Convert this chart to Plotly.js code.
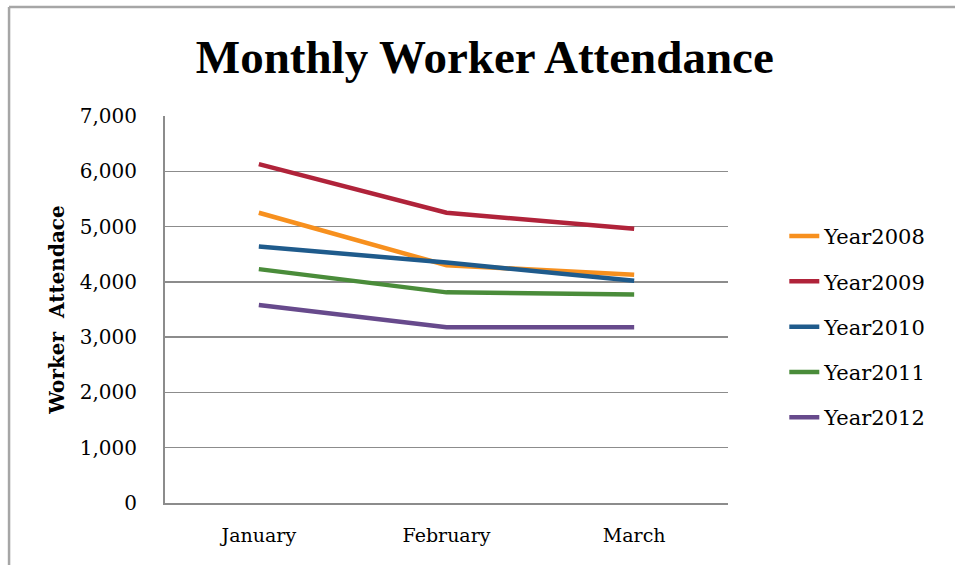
<!DOCTYPE html>
<html>
<head>
<meta charset="utf-8">
<script src="https://cdn.plot.ly/plotly-3.0.1.min.js"></script>
<style>
html,body{margin:0;padding:0;background:#fff;}
#chart{width:955px;height:565px;}
</style>
</head>
<body>
<div id="chart"></div>
<script>
const months = ["January", "February", "March"];
const seriesNames = ["Year2008", "Year2009", "Year2010", "Year2011", "Year2012"];
const year2008 = [5250, 4300, 4130];
const year2009 = [6130, 5250, 4960];
const year2010 = [4640, 4350, 4020];
const year2011 = [4230, 3810, 3770];
const year2012 = [3580, 3180, 3180];
const yTickVals = [0, 1000, 2000, 3000, 4000, 5000, 6000, 7000];
const yTickText = ["0", "1,000", "2,000", "3,000", "4,000", "5,000", "6,000", "7,000"];
const colors = ["#F7901E", "#B0233A", "#1F5B8C", "#4A8C3A", "#674A8C"];

const allSeries = [year2008, year2009, year2010, year2011, year2012];
const traces = allSeries.map((vals, i) => ({
  type: "scatter",
  mode: "lines",
  x: months,
  y: vals,
  name: seriesNames[i],
  legendgroup: "g" + i,
  line: {color: colors[i], width: 4.5}
}));

const fontFam = "DejaVu Serif, serif";
const layout = {
  width: 955, height: 565,
  margin: {l: 165, r: 227, t: 116, b: 62},
  paper_bgcolor: "#ffffff",
  plot_bgcolor: "#ffffff",
  showlegend: true,
  title: {
    text: "<b>Monthly Worker Attendance</b>",
    font: {family: "Liberation Serif, Times New Roman, serif", size: 47, color: "#000"},
    x: 0.568, xanchor: "center", xref: "paper",
    y: 0.9, yanchor: "middle"
  },
  xaxis: {
    type: "category",
    range: [-0.5, 2.5],
    showgrid: false,
    showline: true, linecolor: "#8c8c8c", linewidth: 2,
    ticks: "", ticklabelstandoff: 14,
    tickfont: {family: fontFam, size: 19, color: "#000"},
    zeroline: false, fixedrange: true
  },
  yaxis: {
    range: [0, 7000],
    tickvals: yTickVals, ticktext: yTickText,
    showgrid: true, gridcolor: "#8c8c8c", gridwidth: 1.5,
    showline: true, linecolor: "#8c8c8c", linewidth: 2,
    ticks: "", ticklabelstandoff: 22,
    tickfont: {family: fontFam, size: 20, color: "#000"},
    zeroline: false, fixedrange: true,
    title: {
      text: "<b>Worker  Attendace</b>",
      font: {family: fontFam, size: 20, color: "#000"},
      standoff: 10
    }
  },
  legend: {
    x: 1.10, xanchor: "left",
    y: 0.455, yanchor: "middle",
    font: {family: fontFam, size: 21, color: "#000"},
    tracegroupgap: 15,
    bgcolor: "rgba(0,0,0,0)",
    itemwidth: 30
  },
  shapes: [
    {type: "line", xref: "paper", yref: "paper", x0: -0.277, x1: 1.5, y0: 1.2817, y1: 1.2817, line: {color: "#a6a6a6", width: 2.5}},
    {type: "line", xref: "paper", yref: "paper", x0: -0.277, x1: -0.277, y0: 1.2817, y1: -0.3, line: {color: "#a6a6a6", width: 2.5}}
  ]
};

Plotly.newPlot("chart", traces, layout, {displayModeBar: false, staticPlot: true});
</script>
</body>
</html>
